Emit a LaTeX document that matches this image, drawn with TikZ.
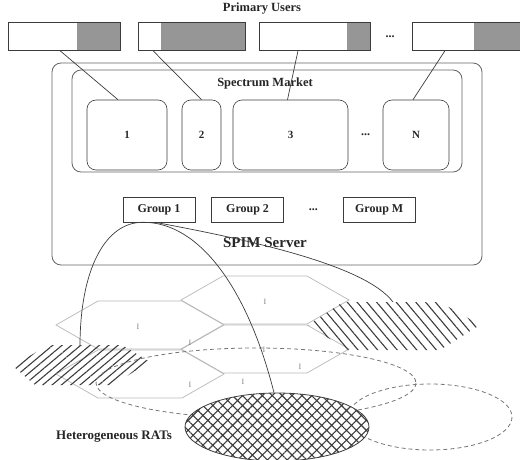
\documentclass[tikz,border=0pt]{standalone}
\usepackage{fontspec}
\setmainfont{Liberation Serif}
\usepackage{tikz}
\usetikzlibrary{
  positioning,
  calc,
  shapes.geometric,
  patterns.meta
}
\usepackage{xcolor}
\definecolor{scangray}{RGB}{60,60,60}
\definecolor{hexgray}{RGB}{185,185,185}
\definecolor{pushade}{RGB}{150,150,150}

\begin{document}
\begin{tikzpicture}[x=1pt, y=-1pt,
  every node/.style={font=\fontsize{12}{14}\selectfont\bfseries, text=black!85},
  title/.style={font=\fontsize{12.5}{14}\selectfont\bfseries},
  pubar/.style={draw=scangray, line width=0.7pt, minimum height=28pt, inner sep=0pt},
  serverbox/.style={draw=scangray!80, line width=0.8pt, rounded corners=9pt, inner sep=0pt},
  chanbox/.style={draw=scangray, line width=0.6pt, rounded corners=9pt,
    minimum height=70pt, inner sep=0pt, font=\fontsize{11}{13}\selectfont\bfseries},
  groupbox/.style={draw=scangray, line width=0.6pt, minimum width=72pt,
    minimum height=25pt, inner sep=0pt},
  link/.style={draw=scangray, line width=0.7pt},
  hexcell/.style={draw=hexgray, line width=0.7pt},
  ratcell/.style={draw=scangray!70, line width=0.8pt, dash pattern=on 4pt off 3pt},
  celltag/.style={font=\fontsize{8}{9}\selectfont, text=gray}
]
  \useasboundingbox (0,0) rectangle (520,460);
  \clip (0,0) rectangle (520,460);

  % primary users
  \node[title] (pulabel) at (262,9) {Primary Users};
  \foreach \name/\l/\r/\s in {pu1/8/120/77, pu2/138/245/161, pu3/259/370/347, pu4/412/545/474}{
    \fill[pushade] (\s,22) rectangle (\r,50);
    \node[pubar, minimum width={\r-\l}, anchor=north west] (\name) at (\l,22) {};
  }
  \node (pudots) at (390,37) {...};

  % SPIM server with the spectrum market
  \node[serverbox, minimum width=430, minimum height=202] (spim) at (267,164) {};
  \node[serverbox, minimum width=390, minimum height=102] (market) at (267,121) {};
  \node[title] (marketlabel) at (265,83) {Spectrum Market};

  % channels
  \node[chanbox, minimum width=80] (ch1) at (127,135) {1};
  \node[chanbox, minimum width=39] (ch2) at (201.5,135) {2};
  \node[chanbox, minimum width=115] (ch3) at (290.5,135) {3};
  \node[chanbox, minimum width=66] (chN) at (416,135) {N};
  \node (chdots) at ($(ch3.east)!0.5!(chN.west)$) {...};

  % groups
  \node[groupbox] (g1) at (159,209.5) {Group 1};
  \node[groupbox, right=16pt of g1] (g2) {Group 2};
  \node[groupbox, right=59pt of g2] (gM) {Group M};
  \node (gdots) at ($(g2.east)!0.5!(gM.west)$) {...};
  \node[font=\fontsize{15}{17}\selectfont\bfseries] (spimlabel) at (265,243) {SPIM Server};

  % primary users to channels
  \draw[link] ($(pu1.south west)+(52,0)$) -- ($(ch1.north)+(-9,0)$);
  \draw[link] ($(pu2.south west)+(15,0)$) -- (ch2.north);
  \draw[link] ($(pu3.south west)+(39,0)$) -- ($(ch3.north)+(-3,0)$);
  \draw[link] ($(pu4.south west)+(33,0)$) -- ($(chN.north)+(-3,0)$);

  % hexagonal cells
  \foreach \cx/\cy in {265/300, 140/325, 265/349, 140/374}{
    \draw[hexcell] (\cx-84,\cy) -- (\cx-42,\cy-24) -- (\cx+42,\cy-24)
      -- (\cx+84,\cy) -- (\cx+42,\cy+24) -- (\cx-42,\cy+24) -- cycle;
  }
  \foreach \tx/\ty [count=\k] in {265/302, 138/327, 190/343, 264/350, 300/367, 190/385, 243/382}
    \node[celltag] (tag\k) at (\tx,\ty) {I};

  % hatched cells
  \path[pattern={Lines[angle=40,distance=6pt,line width=1.1pt]}, pattern color=scangray]
    (13,366) -- (48,345) -- (122,345) -- (150,362) -- (112,385) -- (35,385) -- cycle;
  \path[pattern={Lines[angle=-50,distance=7.5pt,line width=1.1pt]}, pattern color=scangray]
    (308,325) -- (343,302) -- (440,302) -- (480,325) -- (440,350) -- (347,350) -- cycle;
  \coordinate (h3top) at (80,346);
  \coordinate (h4top) at (393,302);

  % radio access areas
  \draw[ratcell] (256,383) ellipse [x radius=160, y radius=35];
  \draw[ratcell] (430,417) ellipse [x radius=82, y radius=33];
  \node[ellipse, draw=scangray, line width=0.8pt, fill=white, minimum width=184,
    minimum height=68, inner sep=0pt,
    postaction={pattern={Hatch[angle=45,distance=7pt,line width=1.1pt]}, pattern color=scangray}]
    (rats) at (277,427) {};

  % group 1 to its cells
  \draw[link] ($(g1.south)+(-16,0)$) .. controls (105,222) and (80,270) .. (h3top);
  \draw[link] ($(g1.south)+(-16,0)$) .. controls (200,222) and (248,290) .. (rats.95);
  \draw[link] ($(g1.south)+(-4,0)$) .. controls (250,240) and (365,265) .. (h4top);

  \node[font=\fontsize{13}{15}\selectfont\bfseries] (ratlabel) at (114,437) {Heterogeneous RATs};
\end{tikzpicture}
\end{document}
